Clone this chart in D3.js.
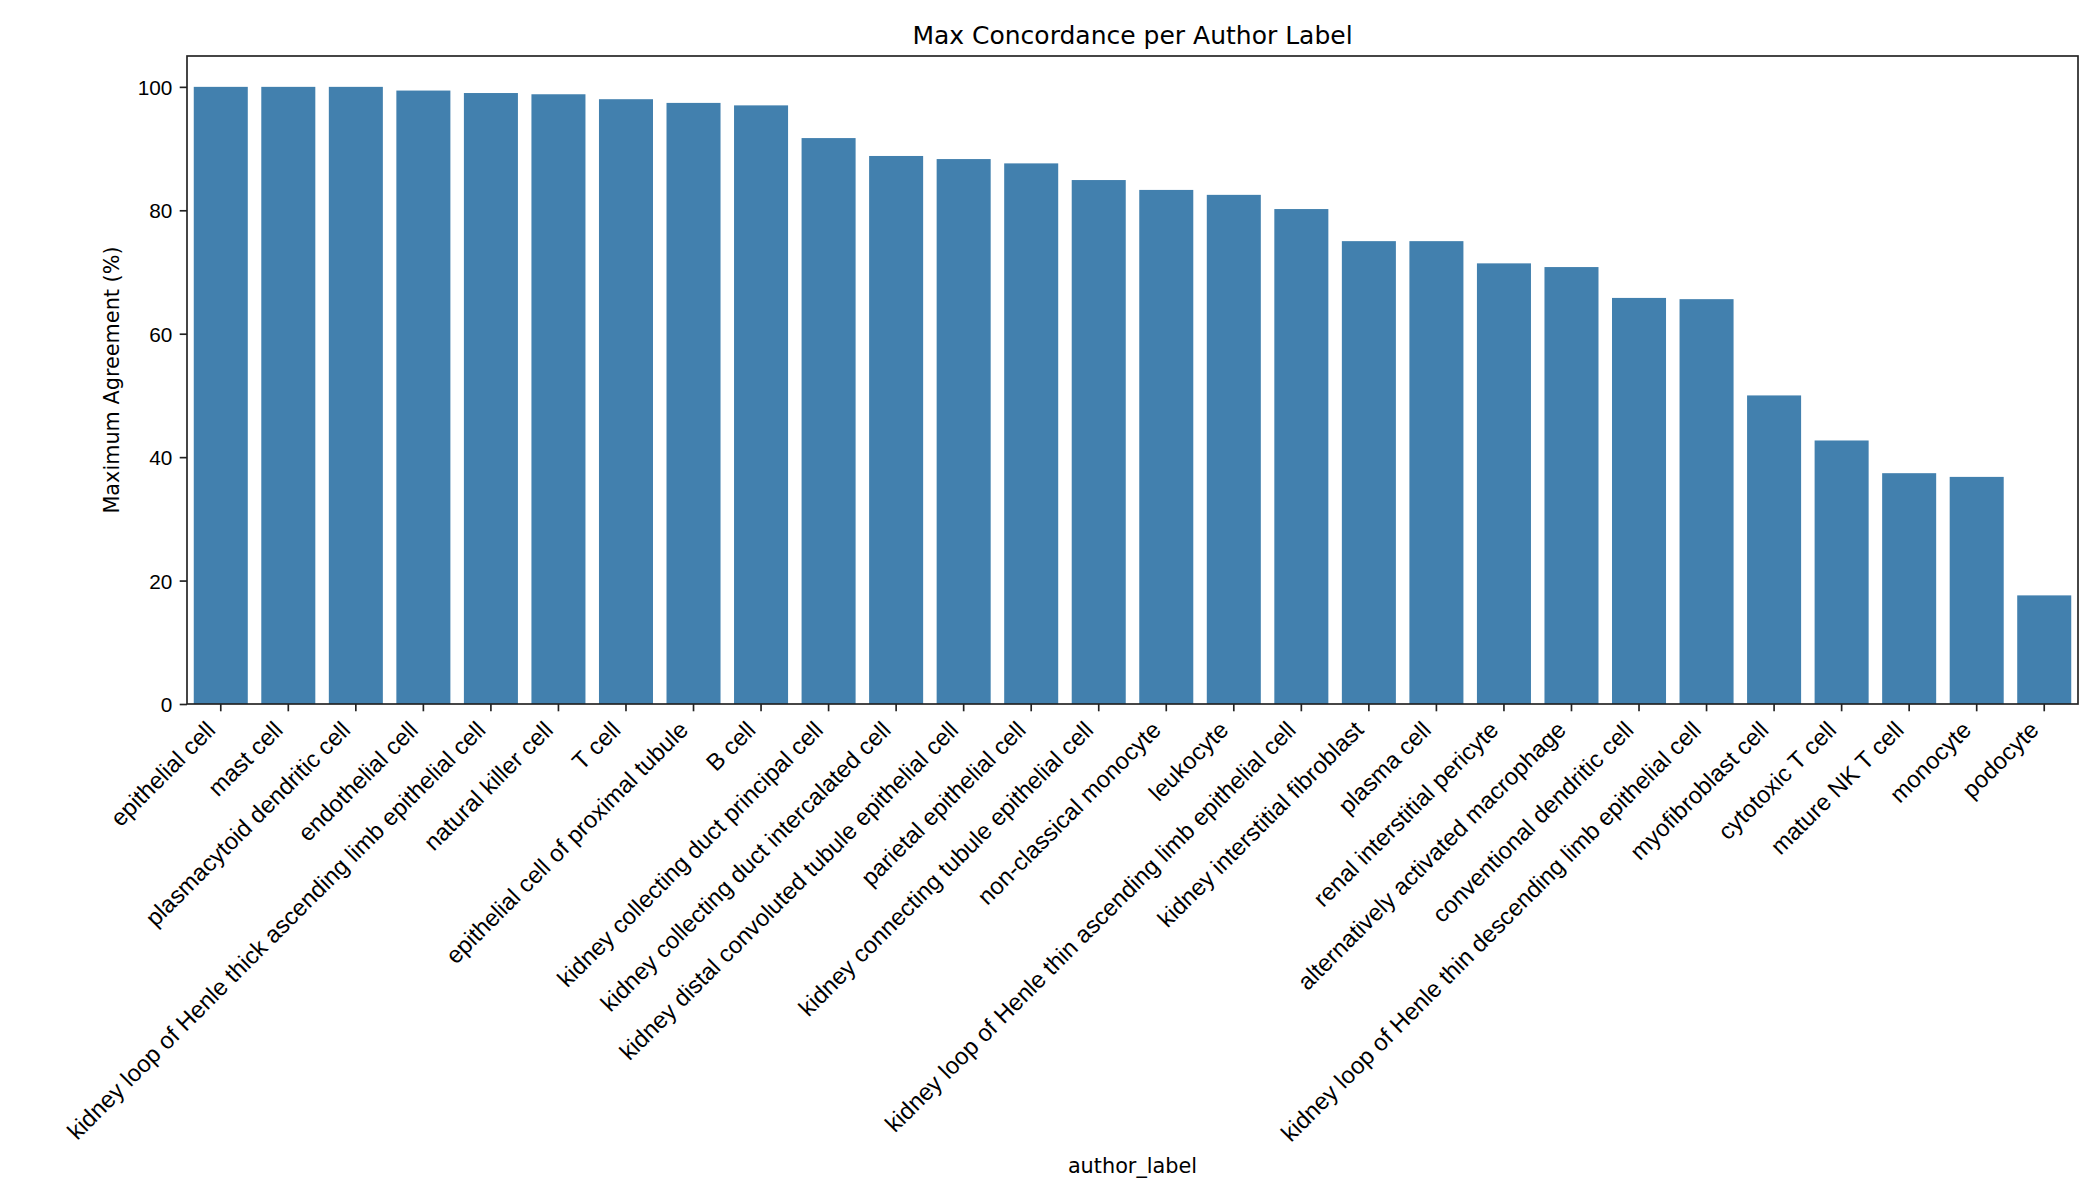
<!DOCTYPE html>
<html lang="en">
<head>
    <meta charset="utf-8">
    <style>
        body { margin: 0; background: #fff; }
        svg { display: block; font-family: "DejaVu Sans", sans-serif; }
        .axis text { font-size: 20.8px; fill: #000; }
        .axis line, .axis path { stroke: #222; stroke-width: 1.67px; }
        .xaxis text { font-size: 23.8px; }
    </style>
</head>
<body>
    <svg width="2100" height="1200"></svg>
    <script src="https://cdn.jsdelivr.net/npm/d3@7/dist/d3.min.js"></script>
    <script>

        // author labels, in plotted order
        var labels = [
            "epithelial cell", "mast cell", "plasmacytoid dendritic cell", "endothelial cell",
            "kidney loop of Henle thick ascending limb epithelial cell", "natural killer cell",
            "T cell", "epithelial cell of proximal tubule", "B cell",
            "kidney collecting duct principal cell", "kidney collecting duct intercalated cell",
            "kidney distal convoluted tubule epithelial cell", "parietal epithelial cell",
            "kidney connecting tubule epithelial cell", "non-classical monocyte", "leukocyte",
            "kidney loop of Henle thin ascending limb epithelial cell",
            "kidney interstitial fibroblast", "plasma cell", "renal interstitial pericyte",
            "alternatively activated macrophage", "conventional dendritic cell",
            "kidney loop of Henle thin descending limb epithelial cell", "myofibroblast cell",
            "cytotoxic T cell", "mature NK T cell", "monocyte", "podocyte"
        ];

        // max agreement (%) per label
        var agreement = [
            100, 100, 100, 99.4, 99.0, 98.8, 98.0, 97.4, 97.0,
            91.7, 88.8, 88.3, 87.6, 84.9, 83.3, 82.5, 80.2,
            75.0, 75.0, 71.4, 70.8, 65.8, 65.6, 50.0, 42.7, 37.4, 36.8, 17.6
        ];

        var yTicks = [0, 20, 40, 60, 80, 100];

        var svg = d3.select("svg");
        var margin = { left: 187, right: 22, top: 56, bottom: 496 };
        var width = 2100 - margin.left - margin.right,
            height = 1200 - margin.top - margin.bottom;

        var x = d3.scaleBand()
            .domain(labels)
            .range([0, width])
            .paddingInner(0.2)
            .paddingOuter(0.1);

        var y = d3.scaleLinear()
            .domain([0, 105])
            .range([height, 0]);

        var g = svg.append("g")
            .attr("transform", "translate(" + margin.left + "," + margin.top + ")");

        g.selectAll(".bar")
            .data(labels)
            .enter().append("rect")
            .attr("class", "bar")
            .attr("x", function (d) { return x(d); })
            .attr("y", function (d, i) { return y(agreement[i]); })
            .attr("width", x.bandwidth())
            .attr("height", function (d, i) { return height - y(agreement[i]); })
            .attr("fill", "#4280ae");

        // y axis
        g.append("g")
            .attr("class", "axis")
            .call(d3.axisLeft(y).tickValues(yTicks).tickSize(7.3).tickPadding(7.3).tickSizeOuter(0))
            .call(function (a) { a.select(".domain").remove(); })
            .selectAll("text").attr("dy", "0.36em");

        // x axis, labels turned 45 degrees and right-aligned on the tick
        var xa = g.append("g")
            .attr("class", "axis xaxis")
            .attr("transform", "translate(0," + height + ")")
            .call(d3.axisBottom(x).tickSize(7.3).tickSizeOuter(0));
        xa.select(".domain").remove();
        xa.selectAll("text")
            .attr("text-anchor", "end")
            .attr("dy", null)
            .attr("y", 0)
            .attr("transform", "translate(-4,27.4) rotate(-45)");

        // frame
        g.append("rect")
            .attr("width", width)
            .attr("height", height)
            .attr("fill", "none")
            .attr("stroke", "#222")
            .attr("stroke-width", 1.67);

        svg.append("text")
            .attr("x", margin.left + width / 2)
            .attr("y", 43.5)
            .attr("text-anchor", "middle")
            .style("font-size", "25px")
            .text("Max Concordance per Author Label");

        svg.append("text")
            .attr("x", margin.left + width / 2)
            .attr("y", 1173)
            .attr("text-anchor", "middle")
            .style("font-size", "20.8px")
            .text("author_label");

        svg.append("text")
            .attr("transform", "translate(119," + (margin.top + height / 2) + ") rotate(-90)")
            .attr("text-anchor", "middle")
            .style("font-size", "20.8px")
            .text("Maximum Agreement (%)");

    </script>
</body>
</html>
